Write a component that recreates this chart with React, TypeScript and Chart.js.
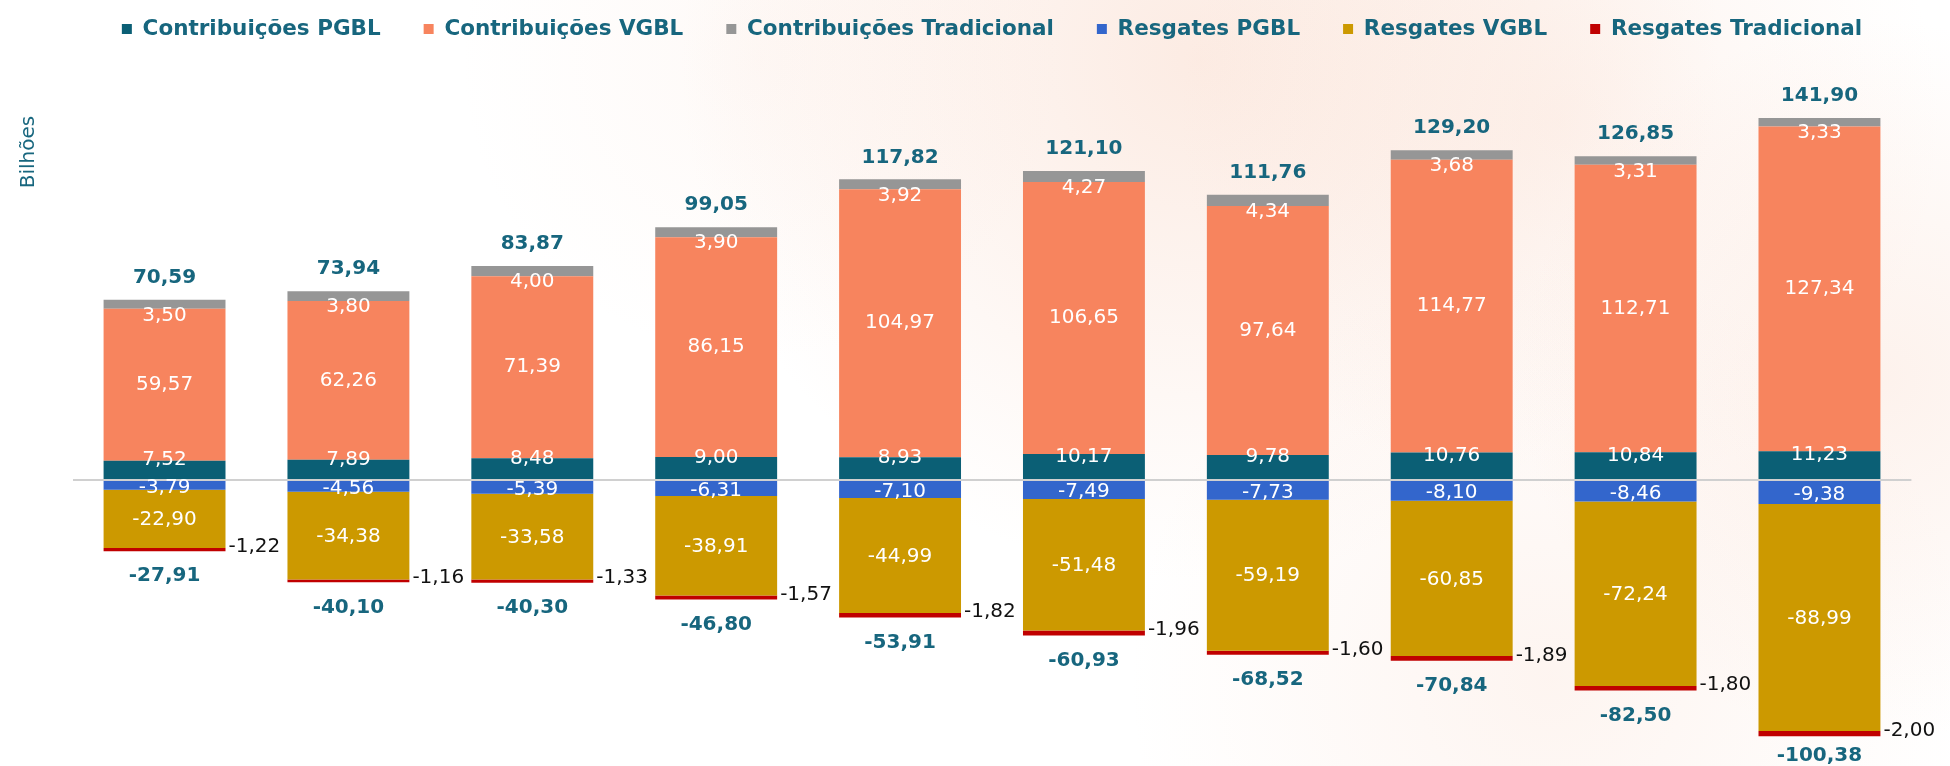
import React, { useEffect, useRef } from 'react';
import { Chart, registerables } from 'chart.js';

Chart.register(...registerables);

// ---------- data ----------
const categories = ['1', '2', '3', '4', '5', '6', '7', '8', '9', '10'];
const seriesNames = [
  'Contribuições PGBL',
  'Contribuições VGBL',
  'Contribuições Tradicional',
  'Resgates PGBL',
  'Resgates VGBL',
  'Resgates Tradicional',
];
const contribPGBL = [7.52, 7.89, 8.48, 9.0, 8.93, 10.17, 9.78, 10.76, 10.84, 11.23];
const contribVGBL = [59.57, 62.26, 71.39, 86.15, 104.97, 106.65, 97.64, 114.77, 112.71, 127.34];
const contribTrad = [3.5, 3.8, 4.0, 3.9, 3.92, 4.27, 4.34, 3.68, 3.31, 3.33];
const resgPGBL = [-3.79, -4.56, -5.39, -6.31, -7.1, -7.49, -7.73, -8.1, -8.46, -9.38];
const resgVGBL = [-22.9, -34.38, -33.58, -38.91, -44.99, -51.48, -59.19, -60.85, -72.24, -88.99];
const resgTrad = [-1.22, -1.16, -1.33, -1.57, -1.82, -1.96, -1.6, -1.89, -1.8, -2.0];
const totalsPositive = [70.59, 73.94, 83.87, 99.05, 117.82, 121.1, 111.76, 129.2, 126.85, 141.9];
const totalsNegative = [-27.91, -40.1, -40.3, -46.8, -53.91, -60.93, -68.52, -70.84, -82.5, -100.38];
const yAxisTitle = 'Bilhões';

const seriesValues = [contribPGBL, contribVGBL, contribTrad, resgPGBL, resgVGBL, resgTrad];
const seriesColors = ['#0B5F75', '#F7845E', '#969696', '#3366CC', '#CC9900', '#C00000'];

const TEAL = '#17667E';
const FONT = '"DejaVu Sans", Verdana, sans-serif';

const fmt = (v: number) => v.toFixed(2).replace('.', ',');

const bgPlugin = {
  id: 'bgPlugin',
  beforeDraw(chart: any) {
    const { ctx, width, height } = chart;
    ctx.save();
    ctx.fillStyle = '#ffffff';
    ctx.fillRect(0, 0, width, height);
    const blobs: [number, number, number, number][] = [
      [1200, 60, 520, 0.42],
      [1560, 120, 380, 0.25],
      [1880, 380, 360, 0.28],
      [1550, 680, 420, 0.22],
      [760, 60, 300, 0.12],
    ];
    for (const [x, y, r, a] of blobs) {
      const g = ctx.createRadialGradient(x, y, 0, x, y, r);
      g.addColorStop(0, `rgba(248,208,188,${a})`);
      g.addColorStop(1, 'rgba(248,208,188,0)');
      ctx.fillStyle = g;
      ctx.fillRect(0, 0, width, height);
    }
    ctx.restore();
  },
};

const labelPlugin = {
  id: 'labelPlugin',
  afterDraw(chart: any) {
    const { ctx } = chart;
    ctx.save();
    ctx.textBaseline = 'middle';

    // y axis title
    ctx.save();
    ctx.translate(29, 152);
    ctx.rotate(-Math.PI / 2);
    ctx.font = `20px ${FONT}`;
    ctx.fillStyle = TEAL;
    ctx.textAlign = 'center';
    ctx.fillText(yAxisTitle, 0, 0);
    ctx.restore();

    const offsets = [-10, 0, 11, 2, 1];
    for (let d = 0; d < 6; d++) {
      const meta = chart.getDatasetMeta(d);
      meta.data.forEach((bar: any, i: number) => {
        const v = seriesValues[d][i];
        const cy = (bar.y + bar.base) / 2;
        if (d < 5) {
          ctx.font = `20px ${FONT}`;
          ctx.fillStyle = '#ffffff';
          ctx.textAlign = 'center';
          ctx.fillText(fmt(v), bar.x, cy + offsets[d]);
        } else {
          ctx.font = `20px ${FONT}`;
          ctx.fillStyle = '#111111';
          ctx.textAlign = 'left';
          ctx.fillText(fmt(v), bar.x + bar.width / 2 + 3, cy - 3);
        }
      });
    }

    const topMeta = chart.getDatasetMeta(2);
    const botMeta = chart.getDatasetMeta(5);
    ctx.font = `bold 20px ${FONT}`;
    ctx.fillStyle = TEAL;
    ctx.textAlign = 'center';
    topMeta.data.forEach((bar: any, i: number) => {
      ctx.fillText(fmt(totalsPositive[i]), bar.x, bar.y - 22);
    });
    botMeta.data.forEach((bar: any, i: number) => {
      const y = Math.min(bar.y + 25, chart.height - 10);
      ctx.fillText(fmt(totalsNegative[i]), bar.x, y);
    });
    ctx.restore();
  },
};

export default function App() {
  const ref = useRef<HTMLCanvasElement | null>(null);

  useEffect(() => {
    if (!ref.current) return;
    const chart = new Chart(ref.current, {
      type: 'bar',
      data: {
        labels: categories,
        datasets: seriesNames.map((name, k) => ({
          label: name,
          data: seriesValues[k],
          backgroundColor: seriesColors[k],
          borderWidth: 0,
          stack: 's',
          categoryPercentage: 0.663,
          barPercentage: 1,
        })),
      },
      options: {
        animation: false,
        responsive: false,
        devicePixelRatio: 1,
        layout: { padding: { top: -24.75, left: 72.6, right: 38.6, bottom: 0 } },
        plugins: {
          legend: {
            display: true,
            position: 'top',
            labels: {
              boxWidth: 10,
              boxHeight: 10,
              padding: 43,
              color: TEAL,
              font: { family: FONT, size: 21.5, weight: 'bold' },
            },
          },
          tooltip: { enabled: false },
          title: { display: false },
        },
        scales: {
          x: { display: false, stacked: true },
          y: {
            display: true,
            stacked: true,
            min: -112.07,
            max: 168.6,
            afterBuildTicks: (scale: any) => {
              scale.ticks = [{ value: 0 }];
            },
            ticks: { display: false },
            border: { display: false },
            grid: { color: '#D0D0D0', lineWidth: 2, drawTicks: false, z: 1 },
          },
        },
      },
      plugins: [bgPlugin, labelPlugin],
    } as any);
    return () => chart.destroy();
  }, []);

  return (
    <div style={{ position: 'absolute', left: 0, top: 0, width: 1950, height: 766 }}>
      <canvas ref={ref} width={1950} height={766} style={{ width: 1950, height: 766, display: 'block' }} />
    </div>
  );
}
